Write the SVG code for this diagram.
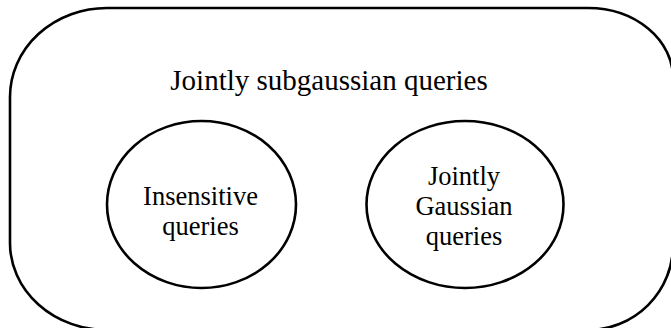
<svg xmlns="http://www.w3.org/2000/svg" width="671" height="328" viewBox="0 0 671 328">
<style>
.s{fill:none;stroke:#000;stroke-width:2.6}
.t{font-family:"Liberation Serif","Times New Roman",serif;fill:#000;text-anchor:middle}
</style>
<rect width="671" height="328" fill="#fff"/>
<g id="outer">
<path class="s" d="M107,8 H588 A85,70 0 0 1 673,78 V245 A85,85 0 0 1 588,330 H107 A97,87 0 0 1 10,243 V97 A97,89 0 0 1 107,8 Z"/>
<text class="t" x="329" y="90" font-size="29">Jointly subgaussian queries</text>
</g>
<g id="insensitive">
<ellipse class="s" cx="201.5" cy="204.5" rx="94.5" ry="83.5"/>
<text class="t" x="200.5" y="205" font-size="26.5">Insensitive</text>
<text class="t" x="200.5" y="235" font-size="26.5">queries</text>
</g>
<g id="gaussian">
<ellipse class="s" cx="465" cy="204.5" rx="98.5" ry="83.5"/>
<text class="t" x="464" y="185" font-size="26.5">Jointly</text>
<text class="t" x="464" y="215" font-size="26.5">Gaussian</text>
<text class="t" x="464" y="245" font-size="26.5">queries</text>
</g>
<g id="connectors"/>
</svg>
